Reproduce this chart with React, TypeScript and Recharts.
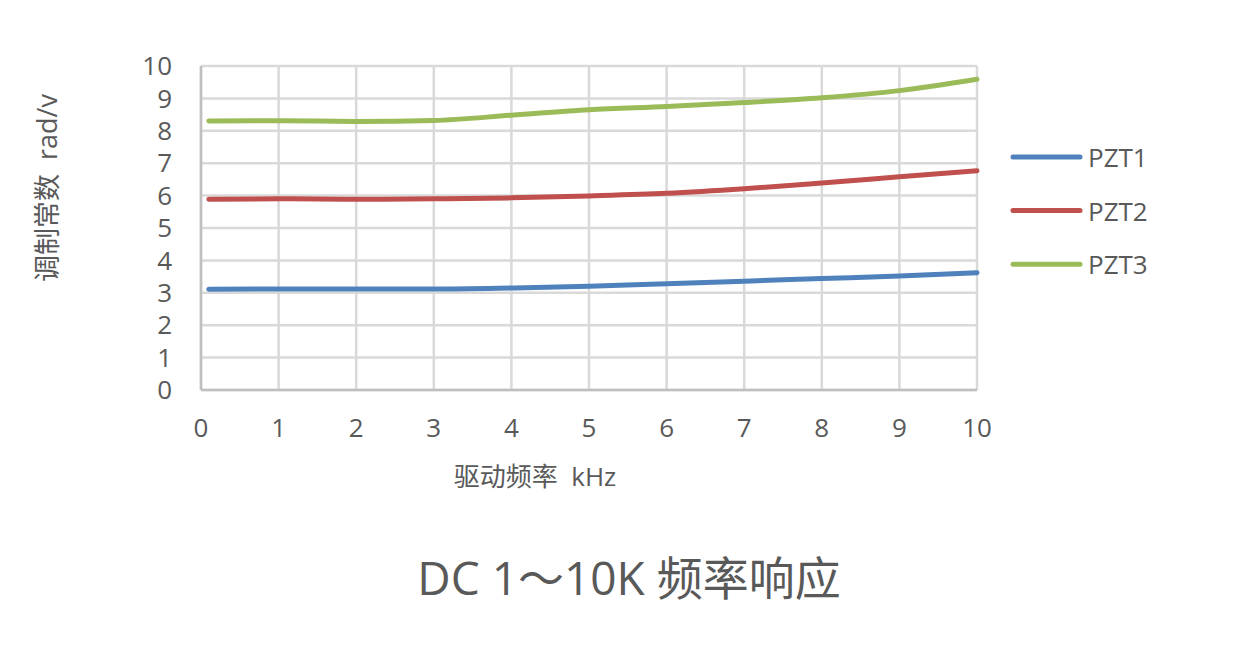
import { LineChart, Line, XAxis, YAxis, CartesianGrid, Label } from 'recharts'

const freq = [0.1, 1, 2, 3, 4, 5, 6, 7, 8, 9, 10]
const pzt1 = [3.11, 3.12, 3.12, 3.12, 3.15, 3.2, 3.28, 3.36, 3.44, 3.52, 3.62]
const pzt2 = [5.89, 5.9, 5.89, 5.9, 5.93, 5.99, 6.07, 6.21, 6.39, 6.58, 6.77]
const pzt3 = [8.3, 8.31, 8.29, 8.32, 8.48, 8.65, 8.75, 8.87, 9.02, 9.24, 9.59]
const seriesNames = ['PZT1', 'PZT2', 'PZT3']
const xTicks = [0, 1, 2, 3, 4, 5, 6, 7, 8, 9, 10]
const yTicks = [0, 1, 2, 3, 4, 5, 6, 7, 8, 9, 10]

// non-breaking spaces so the wide gaps survive in svg text
const xTitle = '驱动频率\u00a0\u00a0kHz'
const yTitle = '调制常数\u00a0\u00a0rad/v'
const chartTitle = 'DC 1～10K 频率响应'

const colors = ['#4F81BD', '#C0504D', '#9BBB59']
const textColor = '#595959'
const font = '"Open Sans", "Noto Sans CJK SC", sans-serif'

const data = freq.map((f, i) => ({ f, PZT1: pzt1[i], PZT2: pzt2[i], PZT3: pzt3[i] }))

function Extras() {
  return (
    <g fontFamily={font} fill={textColor}>
      <text x={46} y={188} transform="rotate(-90 46 188)" textAnchor="middle" dominantBaseline="central" fontSize={27}>
        {yTitle}
      </text>
      <text x={629} y={595} textAnchor="middle" fontSize={46}>
        {chartTitle}
      </text>
      {seriesNames.map((name, i) => {
        const y = 157 + i * 53.6
        return (
          <g key={name}>
            <line x1={1013} x2={1080} y1={y} y2={y} stroke={colors[i]} strokeWidth={5} strokeLinecap="round" />
            <text x={1088} y={y} dominantBaseline="central" fontSize={26}>{name}</text>
          </g>
        )
      })}
    </g>
  )
}

export default function App() {
  return (
    <div style={{ position: 'absolute', left: 0, top: 0, width: 1240, height: 654, background: '#fff' }}>
      <LineChart width={1240} height={654} data={data} margin={{ top: 66, right: 263, bottom: 200, left: 0 }}>
        <CartesianGrid stroke="#d9d9d9" strokeWidth={2.5} />
        <XAxis
          dataKey="f"
          type="number"
          domain={[0, 10]}
          ticks={xTicks}
          interval={0}
          height={64}
          tickLine={false}
          tickSize={0}
          tickMargin={29}
          axisLine={{ stroke: '#bfbfbf', strokeWidth: 2.5 }}
          tick={{ fontSize: 26, fill: textColor, fontFamily: font }}
        >
          <Label
            value={xTitle}
            position="bottom"
            offset={14}
            dx={-54}
            style={{ fontSize: 26, fill: textColor, fontFamily: font }}
          />
        </XAxis>
        <YAxis
          type="number"
          domain={[0, 10]}
          ticks={yTicks}
          interval={0}
          width={201}
          tickLine={false}
          tickSize={0}
          tickMargin={29}
          axisLine={{ stroke: '#bfbfbf', strokeWidth: 2.5 }}
          tick={{ fontSize: 26, fill: textColor, fontFamily: font }}
        >
          <Label content={() => <Extras />} />
        </YAxis>
        {seriesNames.map((name, i) => (
          <Line
            key={name}
            type="monotone"
            dataKey={name}
            stroke={colors[i]}
            strokeWidth={5}
            strokeLinecap="round"
            dot={false}
            activeDot={false}
            isAnimationActive={false}
          />
        ))}
      </LineChart>
    </div>
  )
}
